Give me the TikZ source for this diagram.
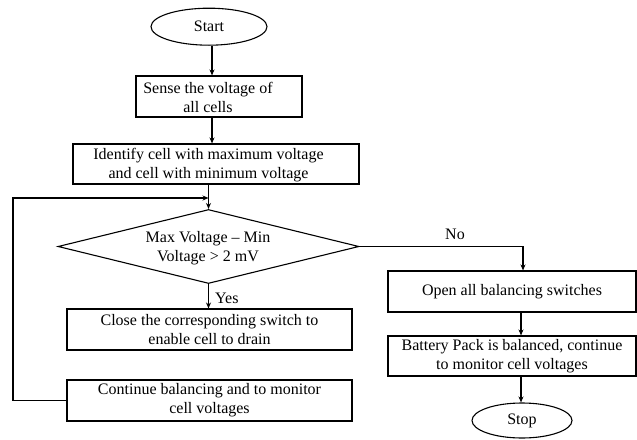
\documentclass[tikz,border=0pt]{standalone}
\usepackage{fontspec}
\setmainfont{Liberation Serif}
\usetikzlibrary{arrows.meta,shapes.geometric}
\begin{document}
\begin{tikzpicture}[x=1pt,y=-1pt,
  every node/.style={inner sep=0pt},
  txt/.style={font=\fontsize{16pt}{19pt}\selectfont, align=center},
  stepbox/.style={draw, line width=1.1pt, rectangle, minimum width=#1},
  term/.style={draw, line width=1.1pt, ellipse, font=\fontsize{16pt}{19pt}\selectfont},
  dec/.style={draw, line width=1.1pt, diamond, aspect=4, minimum width=301pt, minimum height=74pt},
  arr/.style={line width=1.1pt, -{Stealth[length=6pt,width=5pt]}},
  ln/.style={line width=1.1pt}]
\useasboundingbox (0,0) rectangle (637,439);
% column coordinates
\coordinate (ca) at (212,0);
\coordinate (cb) at (521,0);
\coordinate (cn) at (523,0);
\coordinate (loopL) at (13,198);
% nodes
\node[term, minimum width=116pt, minimum height=37pt] (start) at (209,26.7) {Start};
\node[stepbox=166pt, minimum height=41pt] (sense) at (219,96.5) {};
\node[txt] (sensetxt) at (208,97.5) {Sense the voltage of\\all cells};
\node[stepbox=286pt, minimum height=40pt] (ident) at (216,164) {};
\node[txt] (identtxt) at (208.5,165) {Identify cell with maximum voltage\\and cell with minimum voltage};
\node[dec] (dia) at (208.5,246.5) {};
\node[txt] (diatxt) at (208,248) {Max Voltage -- Min\\Voltage > 2 mV};
\node[stepbox=285pt, minimum height=41pt, txt] (close) at (209.5,329.5) {Close the corresponding switch to\\enable cell to drain};
\node[stepbox=285pt, minimum height=41pt, txt] (cont) at (209.5,400.5) {Continue balancing and to monitor\\cell voltages};
\node[stepbox=248pt, minimum height=41pt, txt] (open) at (512,291.5) {Open all balancing switches};
\node[stepbox=248pt, minimum height=40pt, txt] (batt) at (512,356) {Battery Pack is balanced, continue\\to monitor cell voltages};
\node[term, minimum width=100pt, minimum height=35pt] (stop) at (522,420.5) {Stop};
\node[txt, anchor=west] (yes) at (215,298) {Yes};
\node[txt] (no) at (455,234) {No};
% connectors
\draw[arr] (start.south -| ca) -- (sense.north -| ca);
\draw[arr] (sense.south -| ca) -- (ident.north -| ca);
\draw[arr] (ident.south -| dia.north) -- (dia.north);
\draw[arr] (cont.west) -| (loopL) -- (loopL -| dia.north);
\draw[arr] (dia.south) -- (dia.south |- close.north);
\draw[arr] (dia.east) -| (open.north -| cn);
\draw[arr] (open.south -| cb) -- (batt.north -| cb);
\draw[arr] (batt.south -| cb) -- (stop.north -| cb);
\end{tikzpicture}
\end{document}
